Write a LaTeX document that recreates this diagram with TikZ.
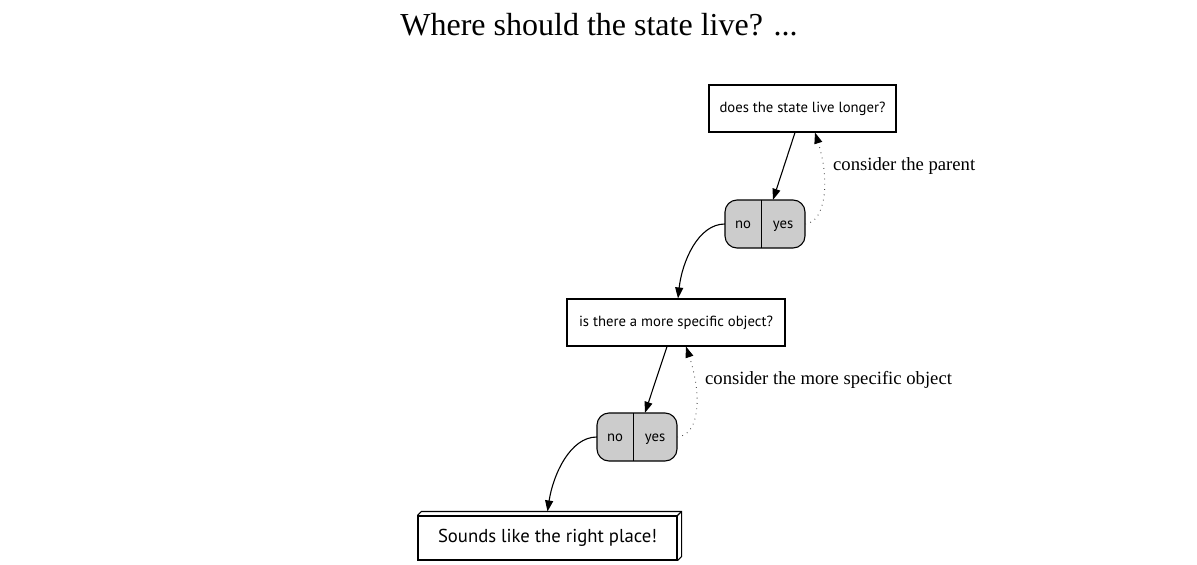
\documentclass[tikz,border=0pt]{standalone}
\usepackage{fontspec}
\setmainfont{Liberation Serif}
\newfontfamily\nodefont{PT Sans}
\usetikzlibrary{arrows.meta,calc}
\begin{document}
\begin{tikzpicture}[x=1pt,y=-1pt,
  box/.style={draw,line width=1.1pt,inner sep=0pt,minimum height=47pt,text height=9pt,text depth=1pt,font=\nodefont\fontsize{14.7}{17}\selectfont},
  record/.style={draw,line width=1.1pt,fill=lightgray!80,rounded corners=12pt,inner sep=0pt,minimum width=80pt,minimum height=48pt},
  cell/.style={inner sep=0pt,minimum height=48pt,text height=8pt,text depth=0pt,font=\nodefont\fontsize{14.7}{17}\selectfont},
  arr/.style={line width=1.1pt,-{Triangle[length=11pt,width=8pt]}},
  dotarr/.style={line width=0.9pt,black!75,dash pattern=on 0.8pt off 4.5pt,-{Triangle[length=11pt,width=8pt,color=black]}},
  lbl/.style={anchor=west,inner sep=0pt,font=\fontsize{18.67}{22}\selectfont},
]
\useasboundingbox (0,0) rectangle (1197,565);
\node[font=\fontsize{32}{38}\selectfont,inner sep=0pt] (title) at (599,25) {Where should the state live? ...};

\node[box,minimum width=187pt] (b1) at (802.5,108.5) {does the state live longer?};
\node[record] (r1) at (765,224) {};
\node[cell,minimum width=36pt] (r1no) at (743,224) {no};
\node[cell,minimum width=44pt] (r1yes) at (783,224) {yes};
\draw[line width=1.1pt] (r1no.north east) -- (r1no.south east);

\node[box,minimum width=218pt] (b2) at (676,322.5) {is there a more specific object?};
\node[record] (r2) at (637,437) {};
\node[cell,minimum width=36pt] (r2no) at (615,437) {no};
\node[cell,minimum width=44pt] (r2yes) at (655,437) {yes};
\draw[line width=1.1pt] (r2no.north east) -- (r2no.south east);

\node[box,minimum width=259pt,minimum height=44pt,text height=12pt,text depth=3pt,font=\nodefont\fontsize{18.7}{22}\selectfont] (f) at (547.5,538) {Sounds like the right place!};
\draw[line width=1.1pt] (f.north west) -- ++(4,-4) -- ($(f.north east)+(4,-4)$) -- ($(f.south east)+(4,-4)$) -- (f.south east);
\draw[line width=1.1pt] (f.north east) -- ++(4,-4);

\draw[arr] ([xshift=-7.5pt]b1.south) -- ([xshift=-10pt]r1yes.north);
\draw[dotarr] (r1yes.east) .. controls (826,222) and (830,180) .. ([xshift=12.5pt]b1.south);
\node[lbl] (l1) at (833,166) {consider the parent};
\draw[arr] (r1no.west) .. controls (698,224) and (682,262) .. ([xshift=2pt]b2.north);

\draw[arr] ([xshift=-9pt]b2.south) -- ([xshift=-10pt]r2yes.north);
\draw[dotarr] (r2yes.east) .. controls (700,435) and (702,395) .. ([xshift=10pt]b2.south);
\node[lbl] (l2) at (705,380) {consider the more specific object};
\draw[arr] (r2no.west) .. controls (570,437) and (553,475) .. ([yshift=4pt]f.north);
\end{tikzpicture}
\end{document}
